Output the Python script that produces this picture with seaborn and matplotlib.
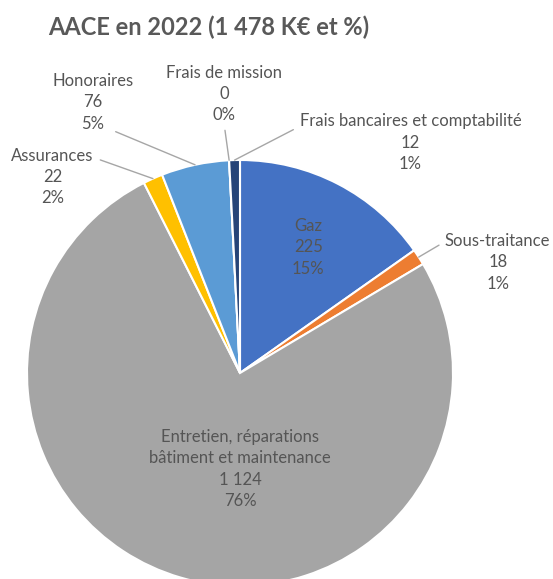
import numpy as np
import matplotlib
matplotlib.use("Agg")
import matplotlib.pyplot as plt
import seaborn as sns

sns.set_theme(style="white")
plt.rcParams['font.family'] = ['Lato', 'DejaVu Sans']

# Data
categories = ["Gaz", "Sous-traitance", "Entretien, réparations\nbâtiment et maintenance",
              "Assurances", "Honoraires", "Frais de mission", "Frais bancaires et comptabilité"]
values = [225, 18, 1124, 22, 76, 0, 12]
value_labels = ["225", "18", "1 124", "22", "76", "0", "12"]
pct_labels = ["15%", "1%", "76%", "2%", "5%", "0%", "1%"]
colors = ["#4472C4", "#ED7D31", "#A5A5A5", "#FFC000", "#5B9BD5", "#70AD47", "#264478"]
title = "AACE en 2022 (1 478 K€ et %)"

# label placement (in pie-radius units), leader line flag, and leader attach point on text box
label_pos = [(0.32, 0.59), (1.21, 0.52), (0.0, -0.45), (-0.88, 0.92),
             (-0.69, 1.27), (-0.075, 1.31), (0.80, 1.08)]
leader = [False, True, False, True, True, True, True]
relpos = [None, (0.0, 0.85), None, (1.0, 0.83), (0.7, 0.05), (0.5, 0.0), (0.0, 0.78)]

W, H = 553, 579
cx, cy, R = 240, 373, 213
fig = plt.figure(figsize=(W / 100, H / 100), dpi=100)
ax = fig.add_axes([0, 0, 1, 1])
ax.axis("off")

wedges, _ = ax.pie(values, colors=colors, startangle=90, counterclock=False,
                   radius=1.0, center=(0, 0),
                   wedgeprops=dict(edgecolor="white", linewidth=1.5))
ax.set_aspect("auto")
ax.set_xlim(-cx / R, (W - cx) / R)
ax.set_ylim(-(H - cy) / R, cy / R)

txtcol = "#555555"
fs = 12
ls = 1.42
for w, cat, v, p, pos, ld, rp in zip(wedges, categories, value_labels, pct_labels,
                                     label_pos, leader, relpos):
    ang = np.deg2rad((w.theta1 + w.theta2) / 2)
    txt = f"{cat}\n{v}\n{p}"
    if ld:
        ax.annotate(txt, xy=(np.cos(ang) * 1.0, np.sin(ang) * 1.0), xytext=pos,
                    ha="center", va="center", fontsize=fs, color=txtcol,
                    linespacing=ls,
                    arrowprops=dict(arrowstyle="-", color="#A6A6A6", lw=1,
                                    shrinkA=5, shrinkB=0, relpos=rp, patchA=None))
    else:
        ax.text(pos[0], pos[1], txt, ha="center", va="center", fontsize=fs,
                color=txtcol, linespacing=ls)

fig.text(209 / W, 1 - 27 / H, title, ha="center", va="center", fontsize=17,
         fontweight="bold", color="#595959")

fig.savefig("out.png", dpi=100)
